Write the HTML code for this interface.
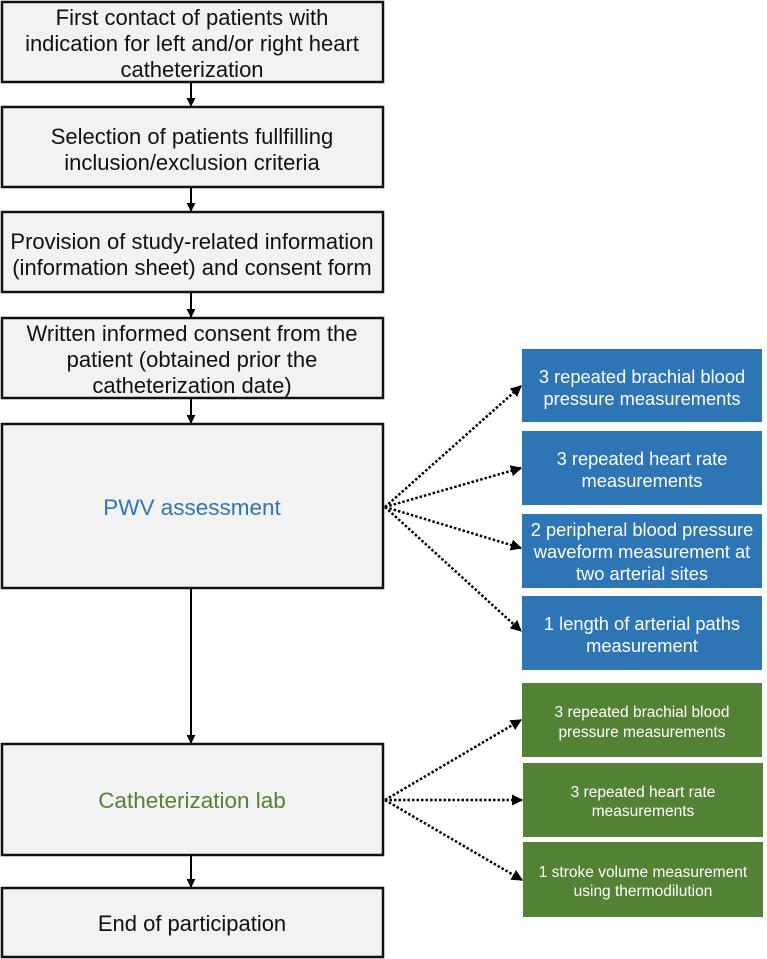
<!DOCTYPE html>
<html><head><meta charset="utf-8"><style>
html,body{margin:0;padding:0;background:#fff;}
svg{display:block;}
text{font-family:"Liberation Sans",Arial,sans-serif;}
</style></head><body>
<svg width="767" height="959" viewBox="0 0 767 959" xmlns="http://www.w3.org/2000/svg">
<defs>
<marker id="a" viewBox="0 0 10 10" refX="9" refY="5" markerWidth="4.5" markerHeight="4.5" orient="auto"><path d="M0,0 L10,5 L0,10 z" fill="#000"/></marker>
</defs>
<g fill="#f2f2f2" stroke="#111" stroke-width="2.5">
<rect x="2" y="2" width="381" height="80"/>
<rect x="2" y="107" width="381" height="80"/>
<rect x="2" y="212" width="381" height="80"/>
<rect x="2" y="318" width="381" height="80"/>
<rect x="2" y="424" width="381" height="164"/>
<rect x="2" y="744" width="381" height="111"/>
<rect x="2" y="888" width="381" height="69"/>
</g>
<g stroke="#000" stroke-width="2" marker-end="url(#a)">
<line x1="191" y1="82" x2="191" y2="106"/>
<line x1="191" y1="187" x2="191" y2="211"/>
<line x1="191" y1="292" x2="191" y2="317"/>
<line x1="191" y1="398" x2="191" y2="423"/>
<line x1="191" y1="588" x2="191" y2="743"/>
<line x1="191" y1="855" x2="191" y2="887"/>
</g>
<g fill="#2e75b6">
<rect x="522" y="349" width="240" height="73"/>
<rect x="522" y="431" width="240" height="74"/>
<rect x="522" y="514" width="240" height="74"/>
<rect x="522" y="596" width="240" height="74"/>
</g>
<g fill="#548235">
<rect x="522" y="683" width="240" height="74"/>
<rect x="523" y="763" width="240" height="74"/>
<rect x="523" y="842" width="240" height="75"/>
</g>
<g stroke="#000" stroke-width="2.5" stroke-dasharray="2.5 2" marker-end="url(#a)" fill="none">
<line x1="385" y1="507" x2="521" y2="386"/>
<line x1="385" y1="507" x2="521" y2="468"/>
<line x1="385" y1="507" x2="521" y2="548"/>
<line x1="385" y1="507" x2="521" y2="631"/>
<line x1="385" y1="800" x2="521" y2="720"/>
<line x1="385" y1="800" x2="522" y2="800"/>
<line x1="385" y1="800" x2="522" y2="880"/>
</g>
<g font-size="22" fill="#111" text-anchor="middle">
<text x="192" y="25">First contact of patients with</text>
<text x="192" y="51">indication for left and/or right heart</text>
<text x="192" y="77">catheterization</text>
<text x="192" y="144">Selection of patients fullfilling</text>
<text x="192" y="170">inclusion/exclusion criteria</text>
<text x="192" y="249">Provision of study-related information</text>
<text x="192" y="275">(information sheet) and consent form</text>
<text x="192" y="341">Written informed consent from the</text>
<text x="192" y="367">patient (obtained prior the</text>
<text x="192" y="393">catheterization date)</text>
<text x="192" y="931">End of participation</text>
</g>
<text x="192" y="515" font-size="22.5" fill="#2e75b6" text-anchor="middle">PWV assessment</text>
<text x="192" y="808" font-size="22.5" fill="#548235" text-anchor="middle">Catheterization lab</text>
<g font-size="18.3" fill="#fff" text-anchor="middle">
<text x="642" y="383">3 repeated brachial blood</text>
<text x="642" y="405">pressure measurements</text>
<text x="642" y="465">3 repeated heart rate</text>
<text x="642" y="487">measurements</text>
<text x="642" y="536">2 peripheral blood pressure</text>
<text x="642" y="558">waveform measurement at</text>
<text x="642" y="580">two arterial sites</text>
<text x="642" y="630">1 length of arterial paths</text>
<text x="642" y="652">measurement</text>
</g>
<g font-size="15.5" fill="#fff" text-anchor="middle">
<text x="642" y="717">3 repeated brachial blood</text>
<text x="642" y="737">pressure measurements</text>
<text x="643" y="797">3 repeated heart rate</text>
<text x="643" y="816">measurements</text>
<text x="643" y="877">1 stroke volume measurement</text>
<text x="643" y="896">using thermodilution</text>
</g>
</svg>
</body></html>
